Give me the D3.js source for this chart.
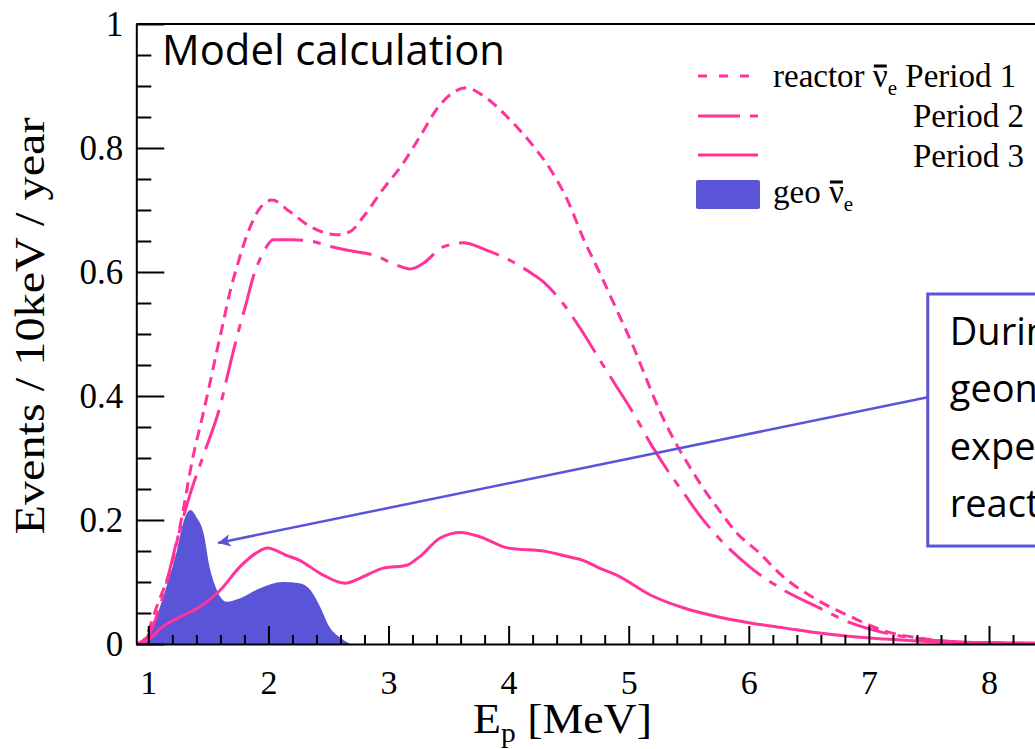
<!DOCTYPE html>
<html>
<head>
<meta charset="utf-8">
<script src="https://cdn.jsdelivr.net/npm/d3@7"></script>
<style>
  body { margin: 0; background: #fff; overflow: hidden; }
  svg { display: block; }
  .serif { font-family: "Liberation Serif", "Times New Roman", serif; }
  .sans { font-family: "Open Sans", "Noto Sans", sans-serif; }
</style>
</head>
<body>
<div id="chart"></div>
<script>
// Reactor spectra (E in MeV, events / 10keV / year)
const p1Energy = [0.9, 0.96, 1.07, 1.21, 1.29, 1.37, 1.45, 1.51, 1.57, 1.62, 1.68, 1.74, 1.83, 1.93, 2.03, 2.18, 2.35, 2.57, 2.68, 2.79, 2.96, 3.11, 3.26, 3.43, 3.65, 3.79, 4.01, 4.21, 4.35, 4.49, 4.62, 4.76, 4.9, 5.04, 5.15, 5.26, 5.37, 5.51, 5.65, 5.76, 5.9, 6.07, 6.29, 6.57, 6.85, 7.13, 7.4, 7.68, 8.0, 8.4];
const p1Values = [0, 0.006, 0.06, 0.14, 0.216, 0.3, 0.366, 0.418, 0.472, 0.515, 0.568, 0.61, 0.664, 0.703, 0.716, 0.697, 0.673, 0.66, 0.665, 0.689, 0.735, 0.772, 0.818, 0.87, 0.897, 0.884, 0.846, 0.802, 0.765, 0.716, 0.655, 0.598, 0.539, 0.479, 0.426, 0.375, 0.332, 0.285, 0.243, 0.214, 0.179, 0.15, 0.108, 0.071, 0.044, 0.021, 0.01, 0.004, 0.002, 0.001];

const p2Energy = [0.9, 0.99, 1.12, 1.24, 1.35, 1.46, 1.6, 1.68, 1.74, 1.82, 1.87, 1.96, 2.04, 2.2, 2.35, 2.5, 2.66, 2.88, 3.07, 3.18, 3.29, 3.45, 3.62, 3.82, 4.0, 4.15, 4.29, 4.45, 4.62, 4.76, 4.9, 5.04, 5.18, 5.32, 5.46, 5.6, 5.74, 6.01, 6.29, 6.57, 6.85, 7.13, 7.4, 7.7, 8.0, 8.4];
const p2Values = [0, 0.011, 0.076, 0.168, 0.243, 0.305, 0.385, 0.45, 0.497, 0.553, 0.59, 0.632, 0.652, 0.652, 0.65, 0.642, 0.635, 0.627, 0.611, 0.605, 0.614, 0.64, 0.647, 0.635, 0.62, 0.603, 0.584, 0.55, 0.502, 0.458, 0.415, 0.372, 0.324, 0.281, 0.243, 0.205, 0.173, 0.124, 0.087, 0.06, 0.034, 0.018, 0.009, 0.004, 0.002, 0.001];

const p3Energy = [0.9, 1.0, 1.12, 1.29, 1.43, 1.6, 1.76, 1.9, 1.99, 2.15, 2.26, 2.43, 2.64, 2.76, 2.95, 3.15, 3.26, 3.43, 3.6, 3.76, 3.99, 4.32, 4.49, 4.62, 4.76, 4.9, 5.18, 5.46, 5.74, 6.01, 6.29, 6.57, 6.85, 7.13, 7.4, 7.68, 8.0, 8.4];
const p3Values = [0, 0.007, 0.028, 0.046, 0.06, 0.087, 0.124, 0.147, 0.155, 0.143, 0.135, 0.114, 0.098, 0.106, 0.122, 0.127, 0.141, 0.171, 0.18, 0.173, 0.155, 0.149, 0.141, 0.135, 0.122, 0.111, 0.079, 0.058, 0.044, 0.034, 0.026, 0.018, 0.012, 0.008, 0.005, 0.003, 0.002, 0.001];

// Geoneutrino spectrum
const geoEnergy = [0.9, 1.01, 1.15, 1.24, 1.29, 1.35, 1.4, 1.46, 1.51, 1.56, 1.6, 1.65, 1.77, 1.93, 2.12, 2.26, 2.35, 2.43, 2.51, 2.6, 2.68];
const geoValues = [0, 0.018, 0.092, 0.152, 0.195, 0.216, 0.205, 0.179, 0.124, 0.092, 0.076, 0.068, 0.074, 0.09, 0.1, 0.098, 0.087, 0.06, 0.027, 0.01, 0];

// Axis ticks
const xMajorTicks = [1, 2, 3, 4, 5, 6, 7, 8, 9, 10];
const yMajorTicks = [0, 0.2, 0.4, 0.6, 0.8, 1];

// Annotation text (the box runs off the right edge of the picture)
const noteLines = ["During Period 3, the", "geoneutrino signal is", "expected to exceed the", "reactor signal"];

const width = 1035, height = 749;
const pink = '#ff3399', blue = '#5a55d8';

const svg = d3.select('#chart').append('svg')
  .attr('width', width)
  .attr('height', height);

const x = d3.scaleLinear().domain([0.9, 10]).range([136.3, 136.3 + 9.1 * 120.1]);
const y = d3.scaleLinear().domain([0, 1]).range([644, 24]);

const zip = (es, vs) => es.map((e, i) => ({ e: e, v: vs[i] }));

// geo area first, lines on top
svg.append('path')
  .datum(zip(geoEnergy, geoValues))
  .attr('fill', blue)
  .attr('d', d3.area().x(d => x(d.e)).y0(y(0)).y1(d => y(d.v)).curve(d3.curveMonotoneX));

const line = d3.line().x(d => x(d.e)).y(d => y(d.v)).curve(d3.curveMonotoneX);

const series = [
  { data: zip(p1Energy, p1Values), dash: '11,7' },
  { data: zip(p2Energy, p2Values), dash: '42,10,8,10' },
  { data: zip(p3Energy, p3Values), dash: null }
];

svg.selectAll('.curve')
  .data(series)
  .enter()
  .append('path')
  .attr('class', 'curve')
  .attr('fill', 'none')
  .attr('stroke', pink)
  .attr('stroke-width', 3)
  .attr('stroke-dasharray', d => d.dash)
  .attr('d', d => line(d.data));

// Axes
const xMinor = d3.range(1, 10.01, 0.2).map(v => +v.toFixed(1)).filter(v => !xMajorTicks.includes(v));
const yMinor = d3.range(0, 1.001, 0.05).map(v => +v.toFixed(2)).filter(v => !yMajorTicks.includes(v));

const xAxis = svg.append('g')
  .attr('class', 'serif')
  .attr('transform', `translate(0,${y(0)})`)
  .call(d3.axisBottom(x).tickValues(xMajorTicks).tickSizeInner(-18).tickSizeOuter(0).tickPadding(26).tickFormat(d => d));
svg.append('g')
  .attr('transform', `translate(0,${y(0)})`)
  .call(d3.axisBottom(x).tickValues(xMinor).tickSizeInner(-9).tickSizeOuter(0).tickFormat(''))
  .call(g => g.select('.domain').remove());

const yAxis = svg.append('g')
  .attr('class', 'serif')
  .attr('transform', `translate(${x(0.9)},0)`)
  .call(d3.axisLeft(y).tickValues(yMajorTicks).tickSizeInner(-28).tickSizeOuter(0).tickPadding(13).tickFormat(d => d));
svg.append('g')
  .attr('transform', `translate(${x(0.9)},0)`)
  .call(d3.axisLeft(y).tickValues(yMinor).tickSizeInner(-15).tickSizeOuter(0).tickFormat(''))
  .call(g => g.select('.domain').remove());

svg.selectAll('.domain, .tick line').attr('stroke', '#000').attr('stroke-width', 2);
xAxis.selectAll('text').attr('font-size', 34).attr('fill', '#000');
yAxis.selectAll('text').attr('font-size', 35).attr('fill', '#000');

// top frame
svg.append('line')
  .attr('x1', x(0.9)).attr('x2', x(10))
  .attr('y1', y(1)).attr('y2', y(1))
  .attr('stroke', '#000').attr('stroke-width', 2);

// Axis titles
svg.append('text')
  .attr('class', 'serif')
  .attr('transform', `translate(44,326) rotate(-90)`)
  .attr('text-anchor', 'middle')
  .attr('font-size', 42)
  .attr('textLength', 417)
  .attr('lengthAdjust', 'spacingAndGlyphs')
  .text('Events / 10keV / year');

const xt = svg.append('text')
  .attr('class', 'serif')
  .attr('x', 473).attr('y', 733)
  .attr('font-size', 42)
  .attr('textLength', 179)
  .attr('lengthAdjust', 'spacingAndGlyphs');
xt.append('tspan').text('E');
xt.append('tspan').attr('font-size', 27).attr('dy', 9).text('p');
xt.append('tspan').attr('dy', -9).text(' [MeV]');

svg.append('text')
  .attr('class', 'sans')
  .attr('x', 162).attr('y', 65)
  .attr('font-size', 42)
  .attr('textLength', 343)
  .attr('lengthAdjust', 'spacingAndGlyphs')
  .text('Model calculation');

// Legend
const legend = svg.append('g').attr('class', 'serif');
const legendLines = [
  { y: 76, dash: '9,12' },
  { y: 116, dash: '42,10,8,10' },
  { y: 155, dash: null }
];
legend.selectAll('line')
  .data(legendLines)
  .enter()
  .append('line')
  .attr('x1', 698).attr('x2', 758)
  .attr('y1', d => d.y).attr('y2', d => d.y)
  .attr('stroke', pink).attr('stroke-width', 3)
  .attr('stroke-dasharray', d => d.dash);
legend.append('rect')
  .attr('x', 696).attr('y', 180).attr('width', 64).attr('height', 29).attr('rx', 2)
  .attr('fill', blue);

function nuBar(sel) {
  sel.append('tspan').text('ν');
  sel.append('tspan').attr('font-size', 21).attr('dy', 8).text('e');
}
const t1 = legend.append('text').attr('x', 773).attr('y', 87).attr('font-size', 33);
t1.append('tspan').text('reactor ');
nuBar(t1);
t1.append('tspan').attr('dy', -8).text(' Period 1');
legend.append('text').attr('x', 913).attr('y', 127).attr('font-size', 33).text('Period 2');
legend.append('text').attr('x', 913).attr('y', 167).attr('font-size', 33).text('Period 3');
const t4 = legend.append('text').attr('x', 773).attr('y', 203).attr('font-size', 33);
t4.append('tspan').text('geo ');
nuBar(t4);

// bars over the nu glyphs
legend.selectAll('text').each(function () {
  const i = this.textContent.indexOf('ν');
  if (i < 0) return;
  const b = this.getExtentOfChar(i);
  legend.append('line')
    .attr('x1', b.x + 1).attr('x2', b.x + b.width - 1)
    .attr('y1', b.y + 8).attr('y2', b.y + 8)
    .attr('stroke', '#000').attr('stroke-width', 3);
});

// Annotation box and arrow
const note = { e0: 7.49, top: 0.5645, bottom: 0.158 };
const arrowFrom = { e: 7.49, v: 0.398 };
const arrowTo = { e: 1.58, v: 0.163 };

svg.append('defs').append('marker')
  .attr('id', 'head')
  .attr('viewBox', '0 0 10 10')
  .attr('refX', 10).attr('refY', 5)
  .attr('markerWidth', 7).attr('markerHeight', 5)
  .attr('markerUnits', 'strokeWidth')
  .attr('orient', 'auto')
  .append('path')
  .attr('d', 'M0,0 L10,5 L0,10 L2.5,5 z')
  .attr('fill', blue);

svg.append('line')
  .attr('x1', x(arrowFrom.e)).attr('y1', y(arrowFrom.v))
  .attr('x2', x(arrowTo.e)).attr('y2', y(arrowTo.v))
  .attr('stroke', blue).attr('stroke-width', 2.5)
  .attr('marker-end', 'url(#head)');

svg.append('rect')
  .attr('x', x(note.e0)).attr('y', y(note.top))
  .attr('width', 400).attr('height', y(note.bottom) - y(note.top))
  .attr('fill', '#fff')
  .attr('stroke', blue).attr('stroke-width', 3);

svg.append('g').attr('class', 'sans')
  .selectAll('text')
  .data(noteLines)
  .enter()
  .append('text')
  .attr('x', x(note.e0) + 22)
  .attr('y', (d, i) => 345 + i * 57.3)
  .attr('font-size', 38)
  .attr('fill', '#000')
  .text(d => d);
</script>
</body>
</html>
